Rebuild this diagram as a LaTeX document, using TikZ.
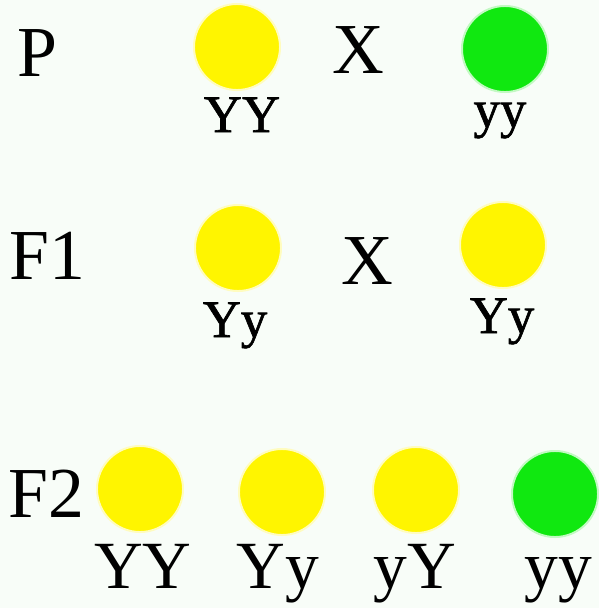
\documentclass[tikz,border=0pt]{standalone}
\usepackage{fontspec}
\setmainfont{Liberation Serif}
\newfontfamily\genofont[FakeBold=1.2]{Liberation Serif}
\usetikzlibrary{positioning}
\definecolor{cbg}{HTML}{F8FDF8}
\definecolor{cyellow}{HTML}{FFF500}
\definecolor{cgreen}{HTML}{10E810}
\tikzset{
  every picture/.style={x=0.025cm, y=-0.025cm},
  pea/.style={circle, fill=#1, draw=#1!25, line width=1.4pt, minimum size=2.15cm, inner sep=0pt},
  pea/.default=cyellow,
  gen/.style={font=\fontsize{51}{51}\selectfont, anchor=base, inner sep=0pt},
  geno/.style={font=\genofont\fontsize{37.5}{37.5}\selectfont, anchor=base, inner sep=0pt},
  genobig/.style={font=\fontsize{48}{48}\selectfont, anchor=base, inner sep=0pt},
}
\begin{document}
\begin{tikzpicture}
  \useasboundingbox[fill=cbg] (0,0) rectangle (599,608);
  % parents
  \node[gen] (p) at (37,76) {P};
  \node[pea] (ppea1) at (237,47) {};
  \node[geno] (pgeno1) at (242,132) {YY};
  \node[gen] (pcross) at (358,73) {X};
  \node[pea=cgreen] (ppea2) at (505,49) {};
  \node[geno] (pgeno2) at (500,127) {yy};
  % first generation
  \node[gen] (f1) at (47,279) {F1};
  \node[pea] (f1pea1) at (238,248) {};
  \node[geno] (f1geno1) at (235,337) {Yy};
  \node[gen] (f1cross) at (367,284) {X};
  \node[pea] (f1pea2) at (503,245) {};
  \node[geno] (f1geno2) at (502,333) {Yy};
  % second generation
  \node[gen] (f2) at (46,517) {F2};
  \foreach \x/\y/\lx/\c/\g [count=\i] in {140/489/143/cyellow/YY, 282/492/278/cyellow/Yy, 416/490/415/cyellow/yY, 555/494/558/cgreen/yy} {
    \node[pea=\c] (f2pea\i) at (\x,\y) {};
    \node[genobig] (f2geno\i) at (\lx,588) {\g};
  }
\end{tikzpicture}
\end{document}
